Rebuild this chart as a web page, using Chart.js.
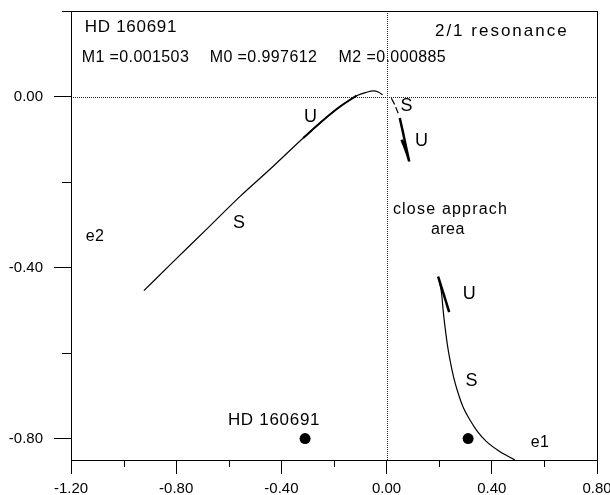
<!DOCTYPE html>
<html>
<head>
<meta charset="utf-8">
<script src="https://cdn.jsdelivr.net/npm/chart.js@4/dist/chart.umd.min.js"></script>
<style>
  html, body { margin: 0; padding: 0; background: #fff; }
  #wrap { width: 610px; height: 495px; }
</style>
</head>
<body>
<div id="wrap"><canvas id="res-chart"></canvas></div>
<script>
// axes
const xTicks = [-1.2, -1.0, -0.8, -0.6, -0.4, -0.2, 0, 0.2, 0.4, 0.6, 0.8];
const xLabeled = [-1.2, -0.8, -0.4, 0, 0.4, 0.8];
const yTicks = [0.2, 0, -0.2, -0.4, -0.6, -0.8];
const yLabeled = [0, -0.4, -0.8];

// e2 branch (left curve)
const e2SX = [-0.923, -0.811, -0.684, -0.558, -0.431, -0.317, -0.25, -0.178, -0.114, -0.076, -0.051, -0.03, -0.015];
const e2SY = [-0.454, -0.386, -0.310, -0.234, -0.163, -0.097, -0.060, -0.024, 0.002, 0.010, 0.013, 0.010, 0.004];
const e2UX = [-0.317, -0.25, -0.178, -0.114];
const e2UY = [-0.097, -0.060, -0.024, 0.002];

// small branch near origin
const nearSX = [0.018, 0.03, 0.044];
const nearSY = [-0.004, -0.018, -0.039];
const nearUX = [0.05, 0.062, 0.074, 0.086, 0.078, 0.068, 0.057];
const nearUY = [-0.05, -0.083, -0.118, -0.152, -0.135, -0.118, -0.101];

// e1 branch (lower right)
const e1UX = [0.196, 0.217, 0.238];
const e1UY = [-0.421, -0.462, -0.504];
const e1SX = [0.196, 0.203, 0.209, 0.215, 0.222, 0.231, 0.241, 0.255, 0.272, 0.292, 0.317, 0.345, 0.38, 0.43, 0.488];
const e1SY = [-0.421, -0.44, -0.46, -0.50, -0.538, -0.58, -0.616, -0.657, -0.694, -0.728, -0.7565, -0.783, -0.807, -0.83, -0.85];

// the two dots
const dotX = [-0.31, 0.31];
const dotY = [-0.8, -0.8];

// text notes
const noteText = ['HD 160691', '2/1 resonance', 'M1 =0.001503', 'M0 =0.997612', 'M2 =0.000885',
  'U', 'S', 'S', 'U', 'e2', 'close apprach', 'area', 'U', 'S', 'e1', 'HD 160691'];
const noteX = [-0.972, 0.438, -0.955, -0.468, 0.022,
  -0.289, -0.561, 0.076, 0.133, -1.109, 0.243, 0.233, 0.314, 0.323, 0.583, -0.428];
const noteY = [0.1506, 0.142, 0.0819, 0.0819, 0.0819,
  -0.059, -0.308, -0.033, -0.115, -0.339, -0.2743, -0.321, -0.473, -0.678, -0.819, -0.768];

const FONT = "'Liberation Sans', Arial, sans-serif";

function pts(xs, ys) {
  return xs.map((x, i) => ({ x: x, y: ys[i] }));
}
function inList(list, v) {
  return list.some(a => Math.abs(a - v) < 1e-9);
}

const framePlugin = {
  id: 'frame',
  beforeDatasetsDraw(chart) {
    const { ctx, chartArea: a, scales } = chart;
    const x0 = Math.round(scales.x.getPixelForValue(0)) + 0.5;
    const y0 = Math.round(scales.y.getPixelForValue(0)) + 0.5;
    ctx.save();
    ctx.strokeStyle = '#222';
    ctx.lineWidth = 1;
    ctx.setLineDash([1, 1]);
    ctx.beginPath();
    ctx.moveTo(x0, a.top);
    ctx.lineTo(x0, a.bottom);
    ctx.moveTo(a.left, y0);
    ctx.lineTo(a.right, y0);
    ctx.stroke();
    ctx.restore();
  },
  afterDraw(chart) {
    const { ctx, chartArea: a, scales } = chart;
    ctx.save();
    ctx.strokeStyle = '#000';
    ctx.lineWidth = 1;
    ctx.strokeRect(Math.round(a.left) + 0.5, Math.round(a.top) + 0.5,
      Math.round(a.right - a.left), Math.round(a.bottom - a.top));

    // minor ticks
    ctx.beginPath();
    xTicks.filter(v => !inList(xLabeled, v)).forEach(v => {
      const px = Math.round(scales.x.getPixelForValue(v)) + 0.5;
      ctx.moveTo(px, a.bottom);
      ctx.lineTo(px, a.bottom + 7);
    });
    yTicks.filter(v => !inList(yLabeled, v)).forEach(v => {
      const py = Math.round(scales.y.getPixelForValue(v)) + 0.5;
      ctx.moveTo(a.left - 9, py);
      ctx.lineTo(a.left, py);
    });
    ctx.stroke();

    // notes
    ctx.fillStyle = '#000';
    ctx.textAlign = 'center';
    ctx.textBaseline = 'alphabetic';
    noteText.forEach((t, i) => {
      let size = 16, gap = '0.4px';
      if (t === 'U' || t === 'S') { size = 18; gap = '0px'; }
      if (t === '2/1 resonance') { size = 17; gap = '2px'; }
      if (t === 'HD 160691') { size = 17; gap = '0.7px'; }
      if (t === 'close apprach') gap = '1.2px';
      ctx.font = size + 'px ' + FONT;
      ctx.letterSpacing = gap;
      ctx.fillText(t, scales.x.getPixelForValue(noteX[i]), scales.y.getPixelForValue(noteY[i]));
    });
    ctx.restore();
  }
};

const ctx = document.getElementById('res-chart').getContext('2d');
new Chart(ctx, {
  type: 'scatter',
  data: {
    datasets: [
      { data: pts(e2SX, e2SY), showLine: true, borderColor: '#000', borderWidth: 1.2,
        pointRadius: 0, cubicInterpolationMode: 'monotone' },
      { data: pts(e2UX, e2UY), showLine: true, borderColor: '#000', borderWidth: 2,
        pointRadius: 0, cubicInterpolationMode: 'monotone' },
      { data: pts(nearSX, nearSY), showLine: true, borderColor: '#000', borderWidth: 1.2,
        borderDash: [7, 3], pointRadius: 0, tension: 0.3 },
      { data: pts(nearUX, nearUY), showLine: true, borderColor: '#000', borderWidth: 2.5,
        pointRadius: 0, tension: 0 },
      { data: pts(e1UX, e1UY), showLine: true, borderColor: '#000', borderWidth: 2.5,
        pointRadius: 0, tension: 0 },
      { data: pts(e1SX, e1SY), showLine: true, borderColor: '#000', borderWidth: 1.2,
        pointRadius: 0, cubicInterpolationMode: 'monotone' },
      { data: pts(dotX, dotY), showLine: false, pointRadius: 5.5,
        pointBackgroundColor: '#000', pointBorderColor: '#000', pointBorderWidth: 0 }
    ]
  },
  options: {
    responsive: true,
    maintainAspectRatio: false,
    animation: false,
    layout: { padding: { top: 11, right: 13, left: 0, bottom: 0 } },
    plugins: {
      legend: { display: false },
      tooltip: { enabled: false }
    },
    scales: {
      x: {
        type: 'linear',
        min: -1.2,
        max: 0.8,
        afterBuildTicks: scale => { scale.ticks = xTicks.map(v => ({ value: v })); },
        afterFit: scale => {
          scale.height = 35;
          scale.paddingLeft = 0;
          scale.paddingRight = 0;
        },
        grid: {
          drawOnChartArea: false,
          tickLength: 14,
          tickColor: c => inList(xLabeled, c.tick.value) ? '#000' : 'rgba(0,0,0,0)'
        },
        border: { color: '#000', width: 1 },
        ticks: {
          autoSkip: false,
          maxRotation: 0,
          padding: 6,
          color: '#000',
          font: { family: FONT, size: 15 },
          callback: v => inList(xLabeled, v) ? Number(v).toFixed(2) : ''
        }
      },
      y: {
        type: 'linear',
        min: -0.85,
        max: 0.2,
        afterBuildTicks: scale => { scale.ticks = yTicks.map(v => ({ value: v })); },
        afterFit: scale => {
          scale.width = 71;
          scale.paddingTop = 0;
          scale.paddingBottom = 0;
        },
        grid: {
          drawOnChartArea: false,
          tickLength: 17,
          tickColor: c => inList(yLabeled, c.tick.value) ? '#000' : 'rgba(0,0,0,0)'
        },
        border: { color: '#000', width: 1 },
        ticks: {
          autoSkip: false,
          padding: 11,
          color: '#000',
          font: { family: FONT, size: 15 },
          callback: v => inList(yLabeled, v) ? Number(v).toFixed(2) : ''
        }
      }
    }
  },
  plugins: [framePlugin]
});
</script>
</body>
</html>
